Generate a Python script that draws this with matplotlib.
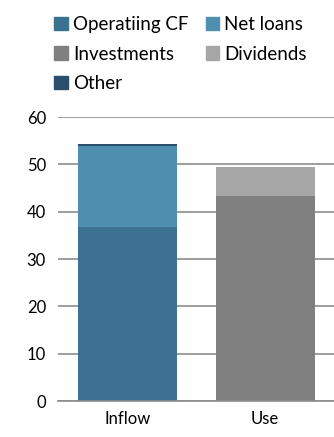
import numpy as np
import matplotlib.pyplot as plt
from matplotlib.patches import Patch

plt.rcParams['font.family'] = ['Lato', 'DejaVu Sans']

categories = ["Inflow", "Use"]
operating_cf = [36.8, 0]
net_loans = [17.2, 0]
other = [0.4, 0]
investments = [0, 43.4]
dividends = [0, 6.1]

c_op = "#3D7191"
c_loans = "#4E8FB0"
c_other = "#2B4F6A"
c_inv = "#808080"
c_div = "#A6A6A6"

fig = plt.figure(figsize=(3.34, 4.37), dpi=100)
ax = fig.add_axes([0.175, 0.082, 0.825, 0.65])

x = np.arange(len(categories))
w = 0.72
b1 = np.array(operating_cf)
ax.bar(x, operating_cf, w, color=c_op)
ax.bar(x, net_loans, w, bottom=b1, color=c_loans)
b2 = b1 + np.array(net_loans)
ax.bar(x, other, w, bottom=b2, color=c_other)
ax.bar(x, investments, w, color=c_inv)
ax.bar(x, dividends, w, bottom=np.array(investments), color=c_div)

ax.set_xlim(-0.5, 1.5)
ax.set_ylim(0, 60)
ax.set_yticks(np.arange(0, 61, 10))
ax.set_xticks(x)
ax.set_xticklabels(categories)
ax.yaxis.grid(True, color="#8C8C8C", linewidth=1.2)
ax.set_axisbelow(True)
for s in ["top", "right", "left"]:
    ax.spines[s].set_visible(False)
ax.spines["bottom"].set_color("#8C8C8C")
ax.spines["bottom"].set_linewidth(1.2)
ax.tick_params(axis="both", length=0, labelsize=12, colors="#000000", pad=9)
ax.tick_params(axis="x", pad=7)

handles = [Patch(color=c_op, label="Operatiing CF"),
           Patch(color=c_inv, label="Investments"),
           Patch(color=c_other, label="Other"),
           Patch(color=c_loans, label="Net loans"),
           Patch(color=c_div, label="Dividends")]
fig.legend(handles=handles, ncol=2, loc="upper left", bbox_to_anchor=(0.118, 0.998),
           frameon=False, fontsize=13.5, handlelength=0.7, handleheight=0.7,
           handletextpad=0.3, columnspacing=0.9, labelspacing=0.68, borderpad=0.3)

fig.savefig("out.png", dpi=100)
